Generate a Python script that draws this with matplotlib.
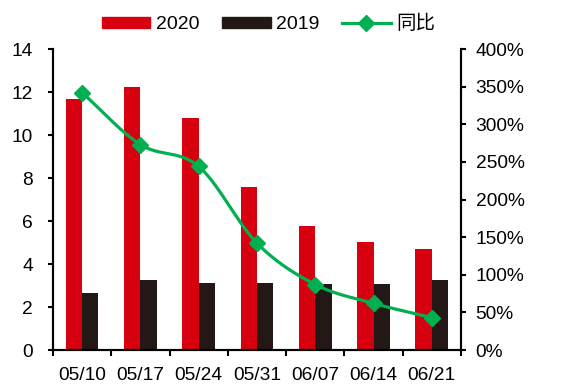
import numpy as np
import matplotlib.pyplot as plt
from matplotlib.lines import Line2D
from matplotlib.patches import Patch
from matplotlib.ticker import FuncFormatter, MultipleLocator

plt.rcParams['font.family'] = ['Liberation Sans', 'Noto Sans CJK SC', 'DejaVu Sans']
plt.rcParams['font.size'] = 13.8

weeks = ['05/10', '05/17', '05/24', '05/31', '06/07', '06/14', '06/21']
y2020 = [11.67, 12.23, 10.79, 7.58, 5.78, 5.04, 4.70]
y2019 = [2.64, 3.26, 3.13, 3.13, 3.08, 3.08, 3.26]
yoy = [3.42, 2.73, 2.44, 1.42, 0.87, 0.62, 0.43]

red = '#D7000F'
dark = '#231815'
green = '#00B050'

fig = plt.figure(figsize=(5.69, 3.85), dpi=100)
ax = fig.add_axes([0.0931, 0.0909, 0.7170, 0.7818])
ax2 = ax.twinx()

x = np.arange(len(weeks))
w = 0.28
ax.bar(x - w / 2, y2020, w, color=red, zorder=2)
ax.bar(x + w / 2, y2019, w, color=dark, zorder=2)


def smooth(xs, ys, n=30):
    # Catmull-Rom curve through the points, like a smoothed line in Excel
    xs = np.asarray(xs, float)
    ys = np.asarray(ys, float)
    px = np.concatenate([[2 * xs[0] - xs[1]], xs, [2 * xs[-1] - xs[-2]]])
    py = np.concatenate([[2 * ys[0] - ys[1]], ys, [2 * ys[-1] - ys[-2]]])
    outx, outy = [], []
    t = np.linspace(0, 1, n)
    for i in range(1, len(px) - 2):
        for p, out in ((px, outx), (py, outy)):
            p0, p1, p2, p3 = p[i - 1], p[i], p[i + 1], p[i + 2]
            out.extend(0.5 * (2 * p1 + (-p0 + p2) * t
                              + (2 * p0 - 5 * p1 + 4 * p2 - p3) * t ** 2
                              + (-p0 + 3 * p1 - 3 * p2 + p3) * t ** 3))
    return outx, outy


sx, sy = smooth(x, yoy)
ax2.plot(sx, sy, color=green, lw=2.3, zorder=3)
ax2.plot(x, yoy, ls='none', marker='D', ms=8, color=green, zorder=4)

ax.set_xlim(-0.5, len(weeks) - 0.5)
ax.set_ylim(0, 14)
ax.yaxis.set_major_locator(MultipleLocator(2))
ax2.set_ylim(0, 4)
ax2.yaxis.set_major_locator(MultipleLocator(0.5))
ax2.yaxis.set_major_formatter(FuncFormatter(lambda v, p: f'{v * 100:.0f}%'))

ax.set_xticks(x)
ax.set_xticklabels(weeks)
ax.set_xticks(np.arange(-0.5, len(weeks)), minor=True)
ax.tick_params(axis='x', which='major', length=0, pad=12)
ax.tick_params(axis='x', which='minor', length=4.5, width=1.5, direction='out')
ax.tick_params(axis='y', length=3.5, width=1.5, direction='out', pad=11)
ax2.tick_params(axis='y', length=3.5, width=1.5, direction='out', pad=7)

for a in (ax, ax2):
    a.spines['top'].set_visible(False)
    for s in ('left', 'right', 'bottom'):
        a.spines[s].set_linewidth(1.5)

handles = [Patch(color=red, label='2020'),
           Patch(color=dark, label='2019'),
           Line2D([0], [0], color=green, lw=2.3, marker='D', ms=8, label='同比')]
fig.legend(handles=handles, loc='center', bbox_to_anchor=(0.472, 0.938), ncol=3,
           frameon=False, handlelength=2.5, handleheight=0.5, columnspacing=1.15,
           handletextpad=0.3, fontsize=14)

fig.savefig('out.png', dpi=100)
